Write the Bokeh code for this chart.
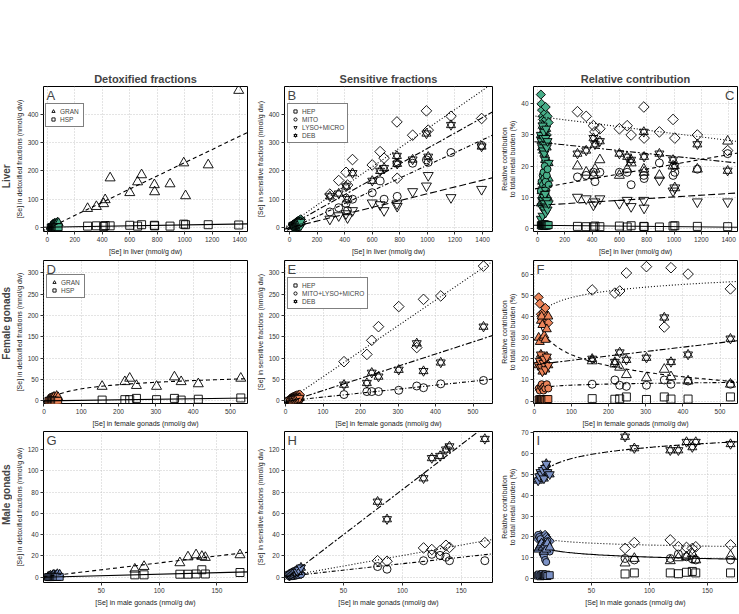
import numpy as np
from bokeh.plotting import figure
from bokeh.layouts import column, row
from bokeh.models import Range1d, FixedTicker, Label, Legend, LegendItem, Slope
from bokeh.embed import file_html
from bokeh.resources import INLINE

FONT = "Liberation Sans"
GREEN = "#47ad88"
ORANGE = "#ec8459"
BLUE = "#7c92c6"

# ---------------- Liver ----------------
liver_ctrl_x = [25, 30, 34, 38, 41, 44, 47, 50, 53, 56, 60, 64, 68, 74, 82]
liver_ctrl_gran = [3, 5, 8, 6, 10, 12, 7, 9, 14, 11, 8, 15, 12, 18, 16]
liver_ctrl_hsp = [0.5, 0.8, 1, 0.6, 1.2, 1, 0.9, 1.1, 1.3, 0.8, 1, 1.4, 1.2, 1.5, 1.3]
liver_ctrl_hep = [9, 11, 12, 13, 15, 16, 17, 18, 19, 20, 22, 23, 24, 26, 29]
liver_ctrl_mito = [4, 5, 5, 6, 6, 7, 7, 8, 8, 9, 9, 10, 10, 11, 12]
liver_ctrl_lyso = [2, 2, 3, 3, 3, 4, 4, 4, 5, 5, 5, 6, 6, 7, 7]
liver_ctrl_deb = [7, 8, 9, 10, 10, 11, 12, 13, 13, 14, 15, 16, 17, 18, 20]

liver_x = [293, 357, 410, 421, 457, 600, 657, 686, 779, 781, 893, 993, 1006, 1171, 1393]
liver_gran = [67, 74, 84, 98, 175, 123, 161, 186, 151, 126, 154, 228, 112, 221, 484]
liver_hsp = [5, 6, 4, 7, 6, 8, 5, 10, 8, 6, 5, 12, 10, 10, 9]
liver_hep = [118, 166, 195, 150, 240, 221, 268, 245, 373, 174, 326, 412, 344, 393, 385]
liver_mito = [55, 70, 85, 60, 100, 123, 165, 100, 227, 110, 227, 239, 230, 265, 290]
liver_lyso = [30, 42, 49, 35, 60, 87, 81, 60, 84, 75, 127, 147, 184, 106, 135]
liver_deb = [110, 120, 145, 100, 192, 165, 200, 210, 253, 225, 240, 332, 250, 362, 286]

liver_pct_hep = [37.5, 36, 33, 31, 32, 32, 33, 30, 39, 29, 31, 35, 29, 30, 25]
liver_pct_deb = [24, 25, 29, 27, 28, 24, 23, 22, 31, 23, 24, 22, 20, 27, 18.5]
liver_pct_gran = [20, 18, 17, 19, 22, 17, 19, 21, 19, 18, 17, 20, 13, 19, 28]
liver_pct_mito = [16.5, 17, 18, 15, 18, 18, 18, 14, 17, 16, 21, 17, 18, 19, 24]
liver_pct_lyso = [10, 9.5, 7.5, 8.5, 9.5, 8, 9, 7, 9, 6.5, 15.5, 12, 13, 8.5, 8.5]
liver_pct_hsp = [0.6, 0.5, 0.4, 0.7, 0.5, 0.7, 0.4, 0.8, 0.6, 0.5, 0.4, 0.7, 0.8, 0.6, 0.5]
liver_ctrl_pct_hep = [43, 40, 38, 36, 35, 34, 33, 32, 31, 37, 39, 35, 30, 36, 34]
liver_ctrl_pct_deb = [30, 28, 26, 33, 25, 29, 31, 24, 27, 22, 29, 32, 26, 28, 21]
liver_ctrl_pct_gran = [8, 12, 15, 10, 14, 13, 11, 16, 12, 9, 13, 14, 15, 10, 16]
liver_ctrl_pct_mito = [12, 15, 10, 17, 14, 18, 11, 16, 20, 13, 15, 9, 17, 19, 14]
liver_ctrl_pct_lyso = [3, 7, 9, 4, 9, 8, 10, 6, 8, 11, 5, 7, 9, 6, 8]
liver_ctrl_pct_hsp = [1, 0.8, 1.2, 0.9, 1.1, 1, 0.7, 1.3, 0.9, 1, 1.2, 0.8, 1.1, 0.9, 1]

# ---------------- Female gonads ----------------
fem_ctrl_x = [12, 15, 18, 20, 22, 25, 27, 30, 34, 38]
fem_ctrl_gran = [3, 5, 6, 4, 8, 7, 10, 6, 12, 9]
fem_ctrl_hsp = [0.2, 0.3, 0.2, 0.4, 0.3, 0.2, 0.3, 0.4, 0.3, 0.2]
fem_ctrl_hep = [5, 7, 8, 9, 10, 11, 12, 13, 14, 15]
fem_ctrl_mlm = [1, 1, 1.5, 1.5, 2, 2, 2, 2.5, 2.5, 3]
fem_ctrl_deb = [2, 3, 3, 4, 4, 5, 5, 6, 6, 7]

fem_x = [156, 217, 230, 248, 302, 350, 368, 414, 528]
fem_gran = [34, 45, 53, 36, 34, 56, 45, 40, 53]
fem_hsp = [2, 3, 3, 6, 3, 6, 2, 4, 7]
fem_hep = [92, 109, 142, 174, 221, 125, 238, 246, 316]
fem_mlm = [15, 22, 22, 22, 25, 35, 31, 40, 48]
fem_deb = [38, 42, 66, 57, 73, 135, 70, 90, 174]

fem_pct_hep = [52.5, 51, 52, 60.5, 63.5, 35, 63, 60, 53]
fem_pct_deb = [20, 18.5, 23, 19.5, 20.5, 39.5, 18.5, 22, 29.5]
fem_pct_mlm = [8, 10, 7.5, 7, 7.5, 10, 8, 9.5, 8]
fem_pct_gran = [19, 17.5, 16, 12.5, 11, 15, 11.5, 9.5, 8]
fem_pct_hsp = [1.2, 0.9, 1.1, 2, 0.8, 2, 1, 1, 2]
fem_ctrl_pct_hep = [49, 46, 41, 40, 39, 42, 38, 44, 40, 37]
fem_ctrl_pct_deb = [17, 19, 22, 16, 14, 18, 20, 15, 21, 17]
fem_ctrl_pct_gran = [30, 28, 38, 40, 36, 30, 31, 29, 34, 40]
fem_ctrl_pct_mlm = [6, 5, 7, 8, 6, 5, 7, 6, 8, 6]
fem_ctrl_pct_hsp = [0.8, 1, 0.7, 1, 0.9, 0.8, 1, 0.7, 0.8, 1]

# ---------------- Male gonads ----------------
male_ctrl_x = [4, 5, 6, 7, 8, 9, 10, 11, 12, 14]
male_ctrl_gran = [0.5, 1, 1.5, 1, 2, 2.5, 1.5, 2, 3, 2.5]
male_ctrl_hsp = [0.1, 0.2, 0.1, 0.2, 0.3, 0.2, 0.2, 0.3, 0.2, 0.3]
male_ctrl_hep = [1, 1.5, 2, 2, 2, 2.5, 3, 3, 3.5, 3]
male_ctrl_mito = [0.8, 1, 1, 1.5, 1, 2, 1.5, 2, 2, 2.5]
male_ctrl_deb = [2.5, 3, 3.5, 4, 4.5, 5, 6, 5, 7, 9]

male_x = [79, 87, 118, 125, 132, 137, 140, 170]
male_gran = [7.5, 10, 13.5, 19, 21, 19.5, 18.5, 21]
male_hsp = [2.2, 2.2, 2.8, 2.8, 3, 7, 3, 4.4]
male_hep = [15.5, 15, 27.5, 26, 25, 30, 28, 32.5]
male_mito = [10, 7.5, 15.5, 21.5, 20.5, 19, 15.5, 15.5]
male_deb = [71, 54.5, 93, 112, 114, 120, 123, 130]

male_pct_deb = [68, 62.5, 61.5, 61.5, 65.5, 63, 65.5, 64.5]
male_pct_hep = [14.5, 17.3, 18.6, 15.3, 15, 14.5, 15.3, 16.2]
male_pct_mito = [9.7, 9, 9.7, 11.8, 10.5, 9.5, 9, 9]
male_pct_gran = [7.5, 9.7, 8.6, 10, 10.5, 12, 9, 11]
male_pct_hsp = [2.3, 2.8, 2.8, 2.4, 3.1, 3.5, 2.8, 2.8]
male_ctrl_pct_deb = [47, 49, 51, 50, 52, 48, 53, 55, 51, 50]
male_ctrl_pct_hep = [19, 20, 21, 20, 18, 19, 21, 20, 19, 18]
male_ctrl_pct_mito = [21, 20, 19, 17, 12, 11, 9, 8, 18, 13]
male_ctrl_pct_gran = [14, 15, 16, 17, 15, 13, 16, 14, 17, 15]
male_ctrl_pct_hsp = [1.5, 2, 1.2, 1.8, 2.2, 1.4, 1.6, 2, 1.3, 1.7]

# axis ticks / labels
liver_xticks = [0, 200, 400, 600, 800, 1000, 1200, 1400]
fem_xticks = [0, 100, 200, 300, 400, 500]
male_xticks = [50, 100, 150]
col_titles = ["Detoxified fractions", "Sensitive fractions", "Relative contribution"]
row_titles = ["Liver", "Female gonads", "Male gonads"]
x_titles = ["[Se] in liver (nmol/g dw)", "[Se] in female gonads (nmol/g dw)",
            "[Se] in male gonads (nmol/g dw)"]
y_titles = ["[Se] in detoxified fractions (nmol/g dw)", "[Se] in sensitive fractions (nmol/g dw)",
            "Relative contribution\nto total metal burden (%)"]

# layout: (width, border_left, border_right) and (height, border_top, border_bottom)
LABEL_W = 12
COLS = [(240, 27, 5), (245, 32, 5), (242, 33, 2)]
ROWS = [(257, 86, 25), (172, 3, 24), (185, 2, 32)]

DASH = {"gran": "4 3", "hsp": "solid", "hep": "1 2", "mito": "1 2 4 2",
        "lyso": "7 3", "deb": "6 2 2 2", "mlm": "1 2 4 2"}
MARK = {"gran": ("triangle", 10, 0), "hsp": ("square", 8, 0), "hep": ("square", 7.5, np.pi / 4),
        "mito": ("circle", 8, 0), "mlm": ("circle", 8, 0), "lyso": ("inverted_triangle", 10, 0)}


def row_label(ri):
    h, bt, bb = ROWS[ri]
    p = figure(width=LABEL_W, height=h, x_range=Range1d(0, 1), y_range=Range1d(0, h),
               tools="", output_backend="svg", toolbar_location=None,
               min_border_left=0, min_border_right=0, min_border_top=0, min_border_bottom=0)
    p.xaxis.visible = False
    p.yaxis.visible = False
    p.grid.visible = False
    p.outline_line_color = None
    p.background_fill_color = "white"
    p.border_fill_color = "white"
    p.add_layout(Label(x=0.5, y=bb + (h - bt - bb) / 2, text=row_titles[ri], angle=np.pi / 2,
                       text_align="center", text_baseline="middle", text_font_size="10px",
                       text_font=FONT, text_font_style="bold"))
    return p


def make_fig(ci, ri, xr, yr, xt, yt, letter, right_letter=False):
    w, bl, br = COLS[ci]
    h, bt, bb = ROWS[ri]
    p = figure(width=w, height=h, title=(col_titles[ci] if ri == 0 else None),
               x_range=Range1d(*xr), y_range=Range1d(*yr), tools="",
               output_backend="svg", toolbar_location=None,
               min_border_left=bl, min_border_right=br, min_border_top=bt, min_border_bottom=bb)
    p.outline_line_color = "black"
    p.outline_line_width = 1
    p.outline_line_alpha = 1
    p.background_fill_color = "white"
    p.border_fill_color = "white"
    p.xaxis.ticker = FixedTicker(ticks=xt)
    p.yaxis.ticker = FixedTicker(ticks=yt)
    p.xaxis.axis_label = x_titles[ri]
    p.yaxis.axis_label = y_titles[ci]
    for ax in (p.xaxis[0], p.yaxis[0]):
        ax.axis_line_color = None
        ax.major_tick_out = 3
        ax.major_tick_in = 0
        ax.major_tick_line_color = "#333333"
        ax.minor_tick_line_color = None
        ax.major_label_text_font_size = "6.5px"
        ax.major_label_text_color = "#333333"
        ax.major_label_text_font = FONT
        ax.major_label_standoff = 2
        ax.axis_label_text_font_size = "7px"
        ax.axis_label_text_font_style = "normal"
        ax.axis_label_text_font = FONT
        ax.axis_label_text_color = "#222222"
        ax.axis_label_standoff = 3
    p.yaxis[0].axis_label_standoff = 2
    p.grid.grid_line_color = "#bbbbbb"
    p.grid.grid_line_dash = "1 2"
    p.grid.grid_line_width = 0.8
    if ri == 0:
        p.title.align = "center"
        p.title.text_font_size = "11px"
        p.title.text_font = FONT
        p.title.text_font_style = "bold"
        p.title.standoff = 3
    if right_letter:
        p.add_layout(Label(x=xr[1], y=yr[1], x_offset=-3, y_offset=-1, text=letter,
                           text_font_size="13px", text_font=FONT, text_align="right",
                           text_baseline="top"))
    else:
        p.add_layout(Label(x=xr[0], y=yr[1], x_offset=3, y_offset=-1, text=letter,
                           text_font_size="13px", text_font=FONT, text_align="left",
                           text_baseline="top"))
    return p


def pts(p, x, y, kind, fill=None):
    if kind == "deb":
        r1 = p.scatter(x, y, marker="triangle", size=9, fill_color=fill,
                       line_color="black", line_width=0.9)
        r2 = p.scatter(x, y, marker="inverted_triangle", size=9, fill_color=fill,
                       line_color="black", line_width=0.9)
        return [r1, r2]
    m, s, ang = MARK[kind]
    if fill is not None:
        s = s - 1
    r = p.scatter(x, y, marker=m, size=s, angle=ang, fill_color=fill, line_color="black",
                  line_width=0.9)
    return [r]


def lin_fit(p, x, y, kind):
    g, c = np.polyfit(np.asarray(x, float), np.asarray(y, float), 1)
    p.add_layout(Slope(gradient=g, y_intercept=c, line_color="black", line_width=1.1,
                       line_dash=DASH[kind]))


def log_fit(p, x, y, kind, xend):
    xa = np.asarray(x, float)
    b, a = np.polyfit(np.log(xa), np.asarray(y, float), 1)
    xs = np.linspace(xa.min(), xend, 120)
    p.line(xs, a + b * np.log(xs), line_color="black", line_width=1.1, line_dash=DASH[kind])


def legend(p, items, loc):
    lg = Legend(items=[LegendItem(label=l, renderers=r) for l, r in items], location=loc,
                border_line_color="black", border_line_width=1, background_fill_alpha=1,
                label_text_font_size="6.5px", label_text_font=FONT, glyph_height=8,
                glyph_width=8, label_height=8, spacing=0, padding=3, margin=0,
                label_standoff=3)
    p.add_layout(lg)


def panel(p, groups, fits, fit_kind, xend, color):
    rend = {}
    for kind, cx, cy, x, y in groups:
        if kind in fits:
            if fit_kind == "lin":
                lin_fit(p, list(cx) + list(x), list(cy) + list(y), kind)
            else:
                log_fit(p, list(cx) + list(x), list(cy) + list(y), kind, xend)
    for kind, cx, cy, x, y in groups:
        rend[kind] = pts(p, x, y, kind)
    for kind, cx, cy, x, y in groups:
        pts(p, cx, cy, kind, fill=color)
    return rend


# ---- Row 1: liver ----
A = make_fig(0, 0, (-28, 1457), (-14, 498), liver_xticks, [0, 100, 200, 300, 400], "A")
gA = [("gran", liver_ctrl_x, liver_ctrl_gran, liver_x, liver_gran),
      ("hsp", liver_ctrl_x, liver_ctrl_hsp, liver_x, liver_hsp)]
rA = panel(A, gA, ["gran", "hsp"], "lin", 1457, GREEN)
legend(A, [("GRAN", rA["gran"]), ("HSP", rA["hsp"])], (2, 104))

B = make_fig(1, 0, (-36, 1472), (-14, 498), liver_xticks, [0, 100, 200, 300, 400], "B")
gB = [("hep", liver_ctrl_x, liver_ctrl_hep, liver_x, liver_hep),
      ("mito", liver_ctrl_x, liver_ctrl_mito, liver_x, liver_mito),
      ("lyso", liver_ctrl_x, liver_ctrl_lyso, liver_x, liver_lyso),
      ("deb", liver_ctrl_x, liver_ctrl_deb, liver_x, liver_deb)]
rB = panel(B, gB, ["hep", "mito", "lyso", "deb"], "lin", 1472, GREEN)
legend(B, [("HEP", rB["hep"]), ("MITO", rB["mito"]), ("LYSO+MICRO", rB["lyso"]),
           ("DEB", rB["deb"])], (3, 88))

C = make_fig(2, 0, (-29, 1465), (-1.05, 45.6), liver_xticks, [0, 10, 20, 30, 40], "C",
             right_letter=True)
gC = [("hep", liver_ctrl_x, liver_ctrl_pct_hep, liver_x, liver_pct_hep),
      ("deb", liver_ctrl_x, liver_ctrl_pct_deb, liver_x, liver_pct_deb),
      ("gran", liver_ctrl_x, liver_ctrl_pct_gran, liver_x, liver_pct_gran),
      ("mito", liver_ctrl_x, liver_ctrl_pct_mito, liver_x, liver_pct_mito),
      ("lyso", liver_ctrl_x, liver_ctrl_pct_lyso, liver_x, liver_pct_lyso),
      ("hsp", liver_ctrl_x, liver_ctrl_pct_hsp, liver_x, liver_pct_hsp)]
panel(C, gC, ["hep", "deb", "gran", "lyso", "hsp"], "lin", 1465, GREEN)

# ---- Row 2: female gonads ----
D = make_fig(0, 1, (-1.3, 546), (-6, 329), fem_xticks, [0, 50, 100, 150, 200, 250, 300], "D")
log_fit(D, fem_ctrl_x + fem_x, fem_ctrl_gran + fem_gran, "gran", 546)
lin_fit(D, fem_ctrl_x + fem_x, fem_ctrl_hsp + fem_hsp, "hsp")
gD = [("gran", fem_ctrl_x, fem_ctrl_gran, fem_x, fem_gran),
      ("hsp", fem_ctrl_x, fem_ctrl_hsp, fem_x, fem_hsp)]
rD = panel(D, gD, [], "lin", 546, ORANGE)
legend(D, [("GRAN", rD["gran"]), ("HSP", rD["hsp"])], (3, 105))

E = make_fig(1, 1, (-2.7, 552), (-6, 329), fem_xticks, [0, 50, 100, 150, 200, 250, 300], "E")
gE = [("hep", fem_ctrl_x, fem_ctrl_hep, fem_x, fem_hep),
      ("mlm", fem_ctrl_x, fem_ctrl_mlm, fem_x, fem_mlm),
      ("deb", fem_ctrl_x, fem_ctrl_deb, fem_x, fem_deb)]
rE = panel(E, gE, ["hep", "mlm", "deb"], "lin", 552, ORANGE)
legend(E, [("HEP", rE["hep"]), ("MITO+LYSO+MICRO", rE["mlm"]), ("DEB", rE["deb"])], (3, 94))

F = make_fig(2, 1, (-1.9, 547), (-1.1, 66.4), fem_xticks, [0, 10, 20, 30, 40, 50, 60], "F")
lin_fit(F, fem_ctrl_x + fem_x, fem_ctrl_pct_deb + fem_pct_deb, "deb")
gF = [("hep", fem_ctrl_x, fem_ctrl_pct_hep, fem_x, fem_pct_hep),
      ("deb", fem_ctrl_x, fem_ctrl_pct_deb, fem_x, fem_pct_deb),
      ("gran", fem_ctrl_x, fem_ctrl_pct_gran, fem_x, fem_pct_gran),
      ("mlm", fem_ctrl_x, fem_ctrl_pct_mlm, fem_x, fem_pct_mlm),
      ("hsp", fem_ctrl_x, fem_ctrl_pct_hsp, fem_x, fem_pct_hsp)]
panel(F, gF, ["hep", "gran", "mlm"], "log", 547, ORANGE)

# ---- Row 3: male gonads ----
G = make_fig(0, 2, (0, 176.5), (-5, 137), male_xticks, [0, 20, 40, 60, 80, 100, 120], "G")
gG = [("gran", male_ctrl_x, male_ctrl_gran, male_x, male_gran),
      ("hsp", male_ctrl_x, male_ctrl_hsp, male_x, male_hsp)]
panel(G, gG, ["gran", "hsp"], "lin", 176.5, BLUE)

H = make_fig(1, 2, (0, 176.5), (-5, 137), male_xticks, [0, 20, 40, 60, 80, 100, 120], "H")
gH = [("hep", male_ctrl_x, male_ctrl_hep, male_x, male_hep),
      ("mito", male_ctrl_x, male_ctrl_mito, male_x, male_mito),
      ("deb", male_ctrl_x, male_ctrl_deb, male_x, male_deb)]
panel(H, gH, ["hep", "mito", "deb"], "lin", 176.5, BLUE)

I = make_fig(2, 2, (0, 176), (-1.8, 70.5), male_xticks, [0, 10, 20, 30, 40, 50, 60, 70], "I")
log_fit(I, male_ctrl_x + male_x, male_ctrl_pct_gran + male_pct_gran, "hsp", 176)
gI = [("deb", male_ctrl_x, male_ctrl_pct_deb, male_x, male_pct_deb),
      ("hep", male_ctrl_x, male_ctrl_pct_hep, male_x, male_pct_hep),
      ("mito", male_ctrl_x, male_ctrl_pct_mito, male_x, male_pct_mito),
      ("gran", male_ctrl_x, male_ctrl_pct_gran, male_x, male_pct_gran),
      ("hsp", male_ctrl_x, male_ctrl_pct_hsp, male_x, male_pct_hsp)]
panel(I, gI, ["deb", "hep"], "log", 176, BLUE)

layout = column(row(row_label(0), A, B, C, spacing=0),
                row(row_label(1), D, E, F, spacing=0),
                row(row_label(2), G, H, I, spacing=0),
                spacing=0)

open("out.html", "w").write(file_html(layout, INLINE))
